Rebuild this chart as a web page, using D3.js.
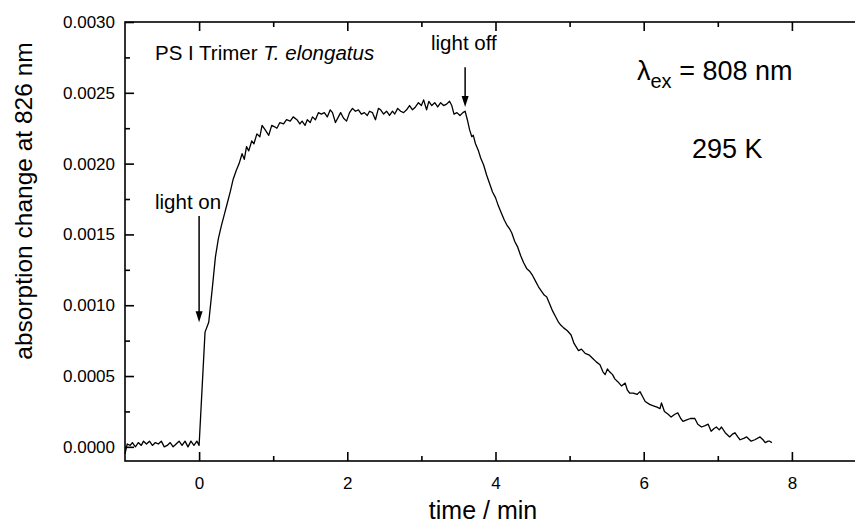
<!DOCTYPE html>
<html>
<head>
<meta charset="utf-8">
<script src="https://cdn.jsdelivr.net/npm/d3@7"></script>
<style>
body { margin: 0; background: #fff; }
svg { display: block; font-family: "Liberation Sans", Arial, sans-serif; }
</style>
</head>
<body>
<div id="chart"></div>
<script>
/* globals d3: false */

var w = 855;
var h = 523;

// time (min), absorption change
var baseline = [
	[-1.00, -0.00005], [-0.97, 0.00002], [-0.93, 0.00001], [-0.90, 0.00003], [-0.86, 0.00000],
	[-0.82, 0.00003], [-0.78, 0.00001], [-0.75, 0.00004], [-0.71, 0.00002], [-0.67, 0.00004],
	[-0.63, 0.00001], [-0.59, 0.00003], [-0.55, 0.00002], [-0.51, 0.00004], [-0.47, 0.00000],
	[-0.43, 0.00001], [-0.39, 0.00003], [-0.35, 0.00000], [-0.31, 0.00002], [-0.27, 0.00004],
	[-0.23, 0.00001], [-0.19, 0.00004], [-0.15, 0.00000], [-0.11, 0.00004], [-0.07, 0.00001],
	[-0.03, 0.00004], [0.00, 0.00001]
];

var rise = [
	[0.08, 0.00081], [0.13, 0.00088], [0.18, 0.00113], [0.22, 0.00134], [0.26, 0.00147],
	[0.30, 0.00156], [0.34, 0.00164], [0.38, 0.00172], [0.42, 0.00180], [0.46, 0.00189],
	[0.50, 0.00195], [0.54, 0.00200], [0.58, 0.00207], [0.61, 0.00203], [0.64, 0.00212],
	[0.67, 0.00209], [0.71, 0.00216], [0.74, 0.00214], [0.78, 0.00221], [0.82, 0.00219],
	[0.85, 0.00227], [0.89, 0.00224], [0.94, 0.00220], [0.98, 0.00227]
];

var plateau = [
	[1.02, 0.00226], [1.05, 0.00225], [1.09, 0.00229], [1.14, 0.00228], [1.18, 0.00231],
	[1.23, 0.00230], [1.27, 0.00233], [1.32, 0.00231], [1.36, 0.00228], [1.39, 0.00230],
	[1.43, 0.00227], [1.46, 0.00231], [1.50, 0.00229], [1.53, 0.00233], [1.57, 0.00231],
	[1.61, 0.00236], [1.65, 0.00235], [1.69, 0.00236], [1.73, 0.00233], [1.77, 0.00238],
	[1.80, 0.00236], [1.84, 0.00229], [1.88, 0.00233], [1.91, 0.00236], [1.95, 0.00232],
	[1.99, 0.00230], [2.03, 0.00236], [2.07, 0.00239], [2.11, 0.00237], [2.15, 0.00238],
	[2.19, 0.00235], [2.23, 0.00236], [2.27, 0.00234], [2.30, 0.00237], [2.34, 0.00236],
	[2.38, 0.00231], [2.42, 0.00239], [2.45, 0.00238], [2.49, 0.00235], [2.53, 0.00237],
	[2.57, 0.00234], [2.61, 0.00237], [2.64, 0.00235], [2.68, 0.00239], [2.72, 0.00237],
	[2.76, 0.00236], [2.80, 0.00238], [2.84, 0.00241], [2.88, 0.00238], [2.92, 0.00240],
	[2.96, 0.00243], [3.00, 0.00241], [3.03, 0.00245], [3.07, 0.00238], [3.10, 0.00244],
	[3.14, 0.00241], [3.18, 0.00243], [3.22, 0.00240], [3.26, 0.00243], [3.30, 0.00241],
	[3.34, 0.00242], [3.38, 0.00244], [3.41, 0.00241], [3.44, 0.00235], [3.48, 0.00236],
	[3.52, 0.00234], [3.56, 0.00236], [3.59, 0.00237]
];

var decay = [
	[3.62, 0.00231], [3.65, 0.00224], [3.68, 0.00219], [3.70, 0.00220], [3.73, 0.00214],
	[3.77, 0.00209], [3.80, 0.00204], [3.84, 0.00199], [3.88, 0.00192], [3.92, 0.00186],
	[3.96, 0.00180], [4.00, 0.00176], [4.04, 0.00170], [4.08, 0.00165], [4.12, 0.00160],
	[4.15, 0.00157], [4.19, 0.00154], [4.22, 0.00151], [4.26, 0.00145], [4.30, 0.00141],
	[4.34, 0.00135], [4.38, 0.00130], [4.42, 0.00126], [4.46, 0.00124], [4.50, 0.00121],
	[4.54, 0.00117], [4.58, 0.00113], [4.62, 0.00110], [4.66, 0.00107], [4.69, 0.00106],
	[4.73, 0.00101], [4.77, 0.00096], [4.81, 0.00092], [4.85, 0.00088], [4.88, 0.00086],
	[4.92, 0.00084], [4.97, 0.00082], [5.02, 0.00079], [5.06, 0.00073], [5.12, 0.00068],
	[5.16, 0.00069], [5.21, 0.00066], [5.26, 0.00065], [5.32, 0.00062], [5.36, 0.00060],
	[5.41, 0.00058], [5.45, 0.00053], [5.48, 0.00051], [5.51, 0.00055], [5.54, 0.00053],
	[5.58, 0.00051], [5.61, 0.00048], [5.65, 0.00046], [5.70, 0.00043], [5.75, 0.00045],
	[5.78, 0.00040], [5.81, 0.00038], [5.86, 0.00038], [5.91, 0.00037], [5.95, 0.00039],
	[5.99, 0.00035], [6.02, 0.00032], [6.08, 0.00030], [6.13, 0.00029], [6.18, 0.00028],
	[6.22, 0.00027], [6.24, 0.00031], [6.28, 0.00025], [6.33, 0.00023], [6.37, 0.00021],
	[6.42, 0.00023], [6.46, 0.00024], [6.50, 0.00020], [6.53, 0.00018], [6.58, 0.00019],
	[6.63, 0.00020], [6.69, 0.00020], [6.73, 0.00016], [6.78, 0.00014], [6.83, 0.00015],
	[6.87, 0.00016], [6.91, 0.00011], [6.95, 0.00013], [6.98, 0.00014], [7.02, 0.00012],
	[7.05, 0.00014], [7.10, 0.00010], [7.16, 0.00007], [7.20, 0.00009], [7.23, 0.00010],
	[7.27, 0.00007], [7.30, 0.00005], [7.35, 0.00006], [7.39, 0.00007], [7.45, 0.00004],
	[7.50, 0.00005], [7.57, 0.00007], [7.61, 0.00005], [7.64, 0.00003], [7.68, 0.00004],
	[7.70, 0.00004], [7.73, 0.00003]
];

var xMajor = [0, 2, 4, 6, 8];
var xMinor = [1, 3, 5, 7];
var yMajor = [0, 0.0005, 0.0010, 0.0015, 0.0020, 0.0025, 0.0030];
var yMinor = [0.00025, 0.00075, 0.00125, 0.00175, 0.00225, 0.00275];

// arrows: [time, value at tail, value at tip]
var arrowOn = [0, 0.00163, 0.00088];
var arrowOff = [3.59, 0.00268, 0.00240];

var font = "'Liberation Sans', Arial, sans-serif";

var x = d3.scaleLinear().domain([-1, 9]).range([125, 866]);
var y = d3.scaleLinear().domain([-0.0001, 0.003]).range([461, 22]);

var svg = d3.select("#chart").append("svg")
	.attr("width", w)
	.attr("height", h);

// frame (right side runs off the picture)
svg.append("rect")
	.attr("x", x(-1))
	.attr("y", y(0.003))
	.attr("width", x(9) - x(-1))
	.attr("height", y(-0.0001) - y(0.003))
	.style("fill", "none")
	.style("stroke", "#000")
	.style("stroke-width", 1.6);

function styleAxis(sel) {
	sel.select(".domain").remove();
	sel.selectAll("line").style("stroke", "#000").style("stroke-width", 1.6);
	sel.selectAll("text").style("font-family", font).style("fill", "#000");
}

// bottom
svg.append("g")
	.attr("transform", "translate(0," + y(-0.0001) + ")")
	.call(d3.axisBottom(x).tickValues(xMajor).tickSize(-9).tickPadding(16).tickFormat(d3.format("d")))
	.call(styleAxis)
	.selectAll("text").style("font-size", "17px");

svg.append("g")
	.attr("transform", "translate(0," + y(-0.0001) + ")")
	.call(d3.axisBottom(x).tickValues(xMinor).tickSize(-5).tickFormat(""))
	.call(styleAxis);

// top
svg.append("g")
	.attr("transform", "translate(0," + y(0.003) + ")")
	.call(d3.axisTop(x).tickValues(xMajor).tickSize(-9).tickFormat(""))
	.call(styleAxis);

svg.append("g")
	.attr("transform", "translate(0," + y(0.003) + ")")
	.call(d3.axisTop(x).tickValues(xMinor).tickSize(-5).tickFormat(""))
	.call(styleAxis);

// left
svg.append("g")
	.attr("transform", "translate(" + x(-1) + ",0)")
	.call(d3.axisLeft(y).tickValues(yMajor).tickSize(-9).tickPadding(10).tickFormat(d3.format(".4f")))
	.call(styleAxis)
	.selectAll("text").style("font-size", "17px");

svg.append("g")
	.attr("transform", "translate(" + x(-1) + ",0)")
	.call(d3.axisLeft(y).tickValues(yMinor).tickSize(-5).tickFormat(""))
	.call(styleAxis);

// trace
var data = baseline.concat(rise, plateau, decay);

var line = d3.line()
	.x(function(d) { return x(d[0]); })
	.y(function(d) { return y(d[1]); });

svg.append("path")
	.datum(data)
	.attr("d", line)
	.style("fill", "none")
	.style("stroke", "#000")
	.style("stroke-width", 1.3)
	.style("stroke-linejoin", "round");

// arrows
function arrow(a) {
	var ax = x(a[0]), y1 = y(a[1]), y2 = y(a[2]);
	svg.append("line")
		.attr("x1", ax).attr("y1", y1)
		.attr("x2", ax).attr("y2", y2 - 8)
		.style("stroke", "#000")
		.style("stroke-width", 1.5);
	svg.append("path")
		.attr("d", "M" + (ax - 3.5) + "," + (y2 - 11) + "L" + (ax + 3.5) + "," + (y2 - 11) + "L" + ax + "," + y2 + "Z")
		.style("fill", "#000");
}
arrow(arrowOn);
arrow(arrowOff);

// labels
svg.append("text")
	.attr("transform", "translate(32,201)rotate(-90)")
	.attr("text-anchor", "middle")
	.style("font-size", "24.5px")
	.text("absorption change at 826 nm");

svg.append("text")
	.attr("x", 483)
	.attr("y", 519)
	.attr("text-anchor", "middle")
	.style("font-size", "25px")
	.text("time / min");

var title = svg.append("text")
	.attr("x", 155)
	.attr("y", 60)
	.style("font-size", "20.5px");
title.append("tspan").text("PS I Trimer ");
title.append("tspan").style("font-style", "italic").text("T. elongatus");

svg.append("text")
	.attr("x", 155)
	.attr("y", 209)
	.style("font-size", "20.5px")
	.text("light on");

svg.append("text")
	.attr("x", 431)
	.attr("y", 50)
	.style("font-size", "20.5px")
	.text("light off");

var lam = svg.append("text")
	.attr("x", 637)
	.attr("y", 80)
	.style("font-size", "27px");
lam.append("tspan").text("λ");
lam.append("tspan").attr("dy", 8).style("font-size", "20px").text("ex");
lam.append("tspan").attr("dy", -8).text(" = 808 nm");

svg.append("text")
	.attr("x", 692)
	.attr("y", 158)
	.style("font-size", "27px")
	.text("295 K");
</script>
</body>
</html>
